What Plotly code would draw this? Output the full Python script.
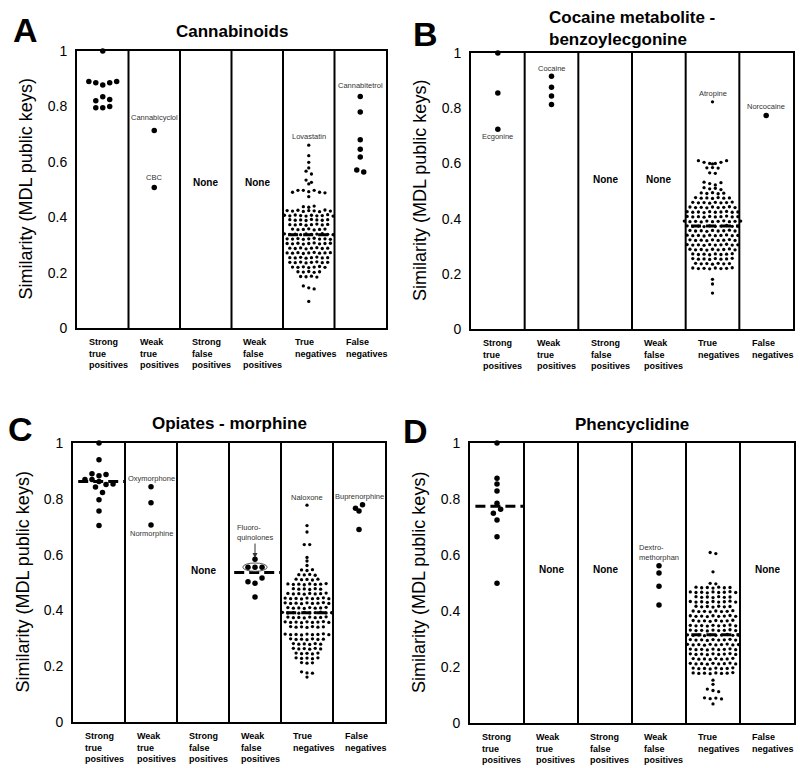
import numpy as np
import plotly.graph_objects as go

FONT = "Liberation Sans"

CATEGORIES = ["Strong<br>true<br>positives", "Weak<br>true<br>positives", "Strong<br>false<br>positives",
              "Weak<br>false<br>positives", "True<br>negatives", "False<br>negatives"]

# --- A: Cannabinoids ---
a_stp = [1.0, 0.89, 0.885, 0.877, 0.885, 0.89, 0.82, 0.835, 0.825, 0.795, 0.795, 0.80]
a_wtp = [0.713, 0.507]
a_sfp = []
a_wfp = []
a_tn = [
    0.660, 0.622, 0.598, 0.578, 0.566, 0.556, 0.534, 0.526, 0.520,
    0.490, 0.497, 0.497, 0.492, 0.497, 0.490, 0.488, 0.474,
    0.438, 0.436, 0.440,
    0.424, 0.422, 0.425, 0.421, 0.424, 0.423, 0.420, 0.426, 0.422,
    0.407, 0.405, 0.408, 0.406, 0.404, 0.407, 0.405, 0.406, 0.409, 0.404,
    0.391, 0.389, 0.390, 0.388, 0.392, 0.390, 0.389, 0.391,
    0.373, 0.372, 0.374, 0.371, 0.373, 0.375, 0.372, 0.374,
    0.357, 0.355, 0.356, 0.358, 0.354, 0.356, 0.357,
    0.340, 0.338, 0.339, 0.337, 0.340, 0.338, 0.339, 0.341, 0.338, 0.337,
    0.322, 0.321, 0.323, 0.320, 0.322, 0.324, 0.321, 0.322, 0.320,
    0.305, 0.304, 0.306, 0.303, 0.305, 0.307, 0.304, 0.305, 0.306,
    0.288, 0.287, 0.289, 0.286, 0.288, 0.290, 0.287, 0.288,
    0.271, 0.270, 0.272, 0.269, 0.271, 0.273, 0.270, 0.271, 0.272,
    0.254, 0.253, 0.255, 0.252, 0.254, 0.256, 0.253, 0.254,
    0.237, 0.236, 0.238, 0.235, 0.237, 0.239, 0.236, 0.237,
    0.220, 0.219, 0.221, 0.218, 0.220, 0.222, 0.219,
    0.203, 0.202, 0.204, 0.201, 0.203,
    0.186, 0.185, 0.187, 0.184,
    0.152, 0.145, 0.141, 0.096,
]
a_fn = [0.836, 0.780, 0.680, 0.645, 0.617, 0.570, 0.563]

# --- B: Cocaine metabolite ---
b_stp = [1.0, 0.855, 0.724]
b_wtp = [0.916, 0.876, 0.844, 0.813]
b_sfp = []
b_wfp = []
b_tn = [
    0.823,
    0.610, 0.604, 0.600, 0.598, 0.600, 0.604, 0.610,
    0.584, 0.585, 0.583,
    0.566, 0.564,
    0.532, 0.527, 0.522, 0.530,
    0.512, 0.508, 0.510, 0.505,
    0.493, 0.491, 0.494, 0.490, 0.492,
    0.476, 0.474, 0.475, 0.473, 0.476, 0.474, 0.475,
    0.459, 0.457, 0.458, 0.456, 0.459, 0.457, 0.458, 0.460,
    0.442, 0.440, 0.441, 0.439, 0.442, 0.440, 0.441, 0.443, 0.440,
    0.425, 0.423, 0.424, 0.422, 0.425, 0.423, 0.424, 0.426, 0.423, 0.424,
    0.408, 0.406, 0.407, 0.405, 0.408, 0.406, 0.407, 0.409, 0.406, 0.407,
    0.391, 0.389, 0.390, 0.388, 0.391, 0.389, 0.390, 0.392, 0.389, 0.390, 0.391,
    0.374, 0.372, 0.373, 0.371, 0.374, 0.372, 0.373, 0.375, 0.372, 0.373,
    0.357, 0.355, 0.356, 0.354, 0.357, 0.355, 0.356, 0.358, 0.355,
    0.340, 0.338, 0.339, 0.337, 0.340, 0.338, 0.339, 0.341, 0.338, 0.339,
    0.323, 0.321, 0.322, 0.320, 0.323, 0.321, 0.322, 0.324, 0.321,
    0.306, 0.304, 0.305, 0.303, 0.306, 0.304, 0.305, 0.307, 0.304, 0.305,
    0.289, 0.287, 0.288, 0.286, 0.289, 0.287, 0.288, 0.290, 0.287,
    0.272, 0.270, 0.271, 0.269, 0.272, 0.270, 0.271, 0.273,
    0.255, 0.253, 0.254, 0.252, 0.255, 0.253, 0.254, 0.256,
    0.238, 0.236, 0.237, 0.235, 0.238, 0.236, 0.237,
    0.221, 0.219, 0.220, 0.218, 0.221, 0.219, 0.220, 0.222,
    0.180, 0.163, 0.130,
]
b_fn = [0.774]

# --- C: Opiates ---
c_stp = [1.0, 0.940, 0.890, 0.883, 0.887, 0.869, 0.869, 0.862, 0.851, 0.842, 0.853, 0.823, 0.797, 0.756, 0.704]
c_wtp = [0.843, 0.786, 0.706]
c_sfp = []
c_wfp_other = [0.583, 0.503, 0.497, 0.516, 0.448]
c_wfp_fluoro = [0.555, 0.555, 0.555]
c_tn = [
    0.777,
    0.704, 0.681,
    0.636, 0.636,
    0.590, 0.577, 0.561,
    0.545, 0.543, 0.546,
    0.528, 0.527, 0.529, 0.526,
    0.512, 0.510, 0.511, 0.509, 0.512,
    0.495, 0.493, 0.494, 0.492, 0.495, 0.493, 0.494, 0.496,
    0.478, 0.476, 0.477, 0.475, 0.478, 0.476,
    0.461, 0.459, 0.460, 0.458, 0.461, 0.459, 0.460, 0.462,
    0.444, 0.442, 0.443, 0.441, 0.444, 0.442, 0.443, 0.445, 0.442,
    0.427, 0.425, 0.426, 0.424, 0.427, 0.425, 0.426, 0.428, 0.425,
    0.410, 0.408, 0.409, 0.407, 0.410, 0.408, 0.409, 0.411,
    0.393, 0.391, 0.392, 0.390, 0.393, 0.391, 0.392, 0.394, 0.391, 0.392,
    0.376, 0.374, 0.375, 0.373, 0.376, 0.374, 0.375, 0.377,
    0.359, 0.357, 0.358, 0.356, 0.359, 0.357, 0.358, 0.360, 0.357,
    0.342, 0.340, 0.341, 0.339, 0.342, 0.340, 0.341,
    0.315, 0.313, 0.314, 0.312, 0.315, 0.313, 0.314, 0.316, 0.313,
    0.298, 0.296, 0.297, 0.295, 0.298, 0.296, 0.297,
    0.281, 0.279, 0.280, 0.278, 0.281, 0.279,
    0.264, 0.262, 0.263, 0.261, 0.264, 0.262,
    0.247, 0.245, 0.246, 0.244, 0.247,
    0.230, 0.228, 0.229, 0.227, 0.230,
    0.213, 0.211, 0.212,
    0.180, 0.176, 0.175, 0.161,
]
c_fn = [0.766, 0.756, 0.779, 0.690]

# --- D: Phencyclidine ---
d_stp = [1.0, 0.874, 0.854, 0.829, 0.785, 0.749, 0.763, 0.725, 0.665, 0.499]
d_wtp = []
d_sfp = []
d_wfp = [0.562, 0.536, 0.488, 0.421]
d_tn = [
    0.609, 0.605,
    0.540,
    0.499, 0.497,
    0.485, 0.483, 0.484, 0.482, 0.485, 0.483, 0.484,
    0.468, 0.466, 0.467, 0.465, 0.468, 0.466, 0.467, 0.469, 0.466,
    0.451, 0.449, 0.450, 0.448, 0.451, 0.449, 0.450,
    0.434, 0.432, 0.433, 0.431, 0.434, 0.432, 0.433, 0.435, 0.432,
    0.417, 0.415, 0.416, 0.414, 0.417, 0.415, 0.416,
    0.400, 0.398, 0.399, 0.397, 0.400, 0.398, 0.399, 0.401,
    0.383, 0.381, 0.382, 0.380, 0.383, 0.381, 0.382, 0.384, 0.381,
    0.366, 0.364, 0.365, 0.363, 0.366, 0.364, 0.365, 0.367,
    0.349, 0.347, 0.348, 0.346, 0.349, 0.347, 0.348, 0.350, 0.347,
    0.332, 0.330, 0.331, 0.329, 0.332, 0.330, 0.331, 0.333, 0.330,
    0.315, 0.313, 0.314, 0.312, 0.315, 0.313, 0.314, 0.316, 0.313, 0.314,
    0.298, 0.296, 0.297, 0.295, 0.298, 0.296, 0.297, 0.299, 0.296,
    0.281, 0.279, 0.280, 0.278, 0.281, 0.279, 0.280, 0.282, 0.279, 0.280,
    0.264, 0.262, 0.263, 0.261, 0.264, 0.262, 0.263, 0.265, 0.262,
    0.247, 0.245, 0.246, 0.244, 0.247, 0.245, 0.246, 0.248, 0.245,
    0.230, 0.228, 0.229, 0.227, 0.230, 0.228, 0.229, 0.231,
    0.213, 0.211, 0.212, 0.210, 0.213, 0.211, 0.212, 0.214, 0.211,
    0.196, 0.194, 0.195, 0.193, 0.196, 0.194, 0.195, 0.197,
    0.179, 0.177, 0.178, 0.176, 0.179, 0.177, 0.178, 0.180,
    0.153, 0.138,
    0.121, 0.116, 0.112,
    0.090, 0.087, 0.089, 0.086,
    0.068,
]
d_fn = []

panels = [
    dict(letter="A", title="Cannabinoids", box=(77, 386, 51, 328), title_y=31, letter_xy=(25, 30),
         cols=[a_stp, a_wtp, a_sfp, a_wfp, a_tn, a_fn], median=[4], none_y=0.525,
         labels=[(1, 0.759, "Cannabicyclol"), (1, 0.542, "CBC"), (4, 0.69, "Lovastatin"), (5, 0.877, "Cannabitetrol")]),
    dict(letter="B", title="Cocaine metabolite -<br>benzoylecgonine", box=(471, 793, 53, 329), title_y=29,
         letter_xy=(425, 34),
         cols=[b_stp, b_wtp, b_sfp, b_wfp, b_tn, b_fn], median=[4], none_y=0.54,
         labels=[(0, 0.697, "Ecgonine"), (1, 0.944, "Cocaine"), (4, 0.854, "Atropine"), (5, 0.807, "Norcocaine")]),
    dict(letter="C", title="Opiates - morphine", box=(73, 385, 443, 722), title_y=423, letter_xy=(20, 429),
         cols=[c_stp, c_wtp, c_sfp, c_wfp_other + c_wfp_fluoro, c_tn, c_fn], median=[0, 3, 4], none_y=0.544,
         labels=[(1, 0.872, "Oxymorphone"), (1, 0.674, "Normorphine"), (4, 0.805, "Naloxone"),
                 (5, 0.809, "Buprenorphine")]),
    dict(letter="D", title="Phencyclidine", box=(470, 794, 443, 723), title_y=424, letter_xy=(415, 431),
         cols=[d_stp, d_wtp, d_sfp, d_wfp, d_tn, d_fn], median=[0, 4], none_y=0.548,
         labels=[(3, 0.61, "Dextro-<br>methorphan")]),
]

W, H = 800, 768


def px(x):
    return x / W


def py(y):
    return 1 - y / H


def swarm_offsets(vals, tol, step):
    idx = sorted(range(len(vals)), key=lambda i: -vals[i])
    rows = []
    for i in idx:
        if rows and vals[rows[-1][0]] - vals[i] < tol:
            rows[-1].append(i)
        else:
            rows.append([i])
    off = [0.0] * len(vals)
    for r in rows:
        r.sort()
        for k, i in enumerate(r):
            off[i] = (k - (len(r) - 1) / 2) * step
    return off


fig = go.Figure()
shapes, annotations = [], []

for k, p in enumerate(panels, start=1):
    sx = "" if k == 1 else str(k)
    xr, yr = "x" + sx, "y" + sx
    left, right, top, bottom = p["box"]
    fig.layout["xaxis" + sx] = dict(domain=[px(left), px(right)], range=[0, 6], anchor=yr, showgrid=False,
                                    zeroline=False, showticklabels=False, ticks="", showline=True, mirror=True,
                                    linecolor="black", linewidth=2, fixedrange=True, automargin=False)
    fig.layout["yaxis" + sx] = dict(domain=[py(bottom), py(top)], range=[0, 1], anchor=xr, showgrid=False,
                                    zeroline=False, tickvals=[0, 0.2, 0.4, 0.6, 0.8, 1],
                                    ticktext=["0", "0.2", "0.4", "0.6", "0.8", "1"], ticks="",
                                    ticklabelstandoff=5, tickfont=dict(family=FONT, size=14, color="black"),
                                    showline=True, mirror=True, linecolor="black", linewidth=2, fixedrange=True,
                                    automargin=False)

    for c in range(1, 6):
        shapes.append(dict(type="line", xref=xr, yref=yr, x0=c, x1=c, y0=0, y1=1,
                           line=dict(color="black", width=2)))

    for c, vals in enumerate(p["cols"]):
        if not vals:
            annotations.append(dict(xref=xr, yref=yr, x=c + 0.5, y=p["none_y"], text="<b>None</b>",
                                    showarrow=False, font=dict(family=FONT, size=10, color="black")))
            continue
        dense = len(vals) > 30
        off = swarm_offsets(vals, 0.012 if dense else 0.02, 0.105 if dense else 0.135)
        xs = [c + 0.5 + o for o in off]
        fig.add_trace(go.Scatter(x=xs, y=vals, xaxis=xr, yaxis=yr, mode="markers", cliponaxis=False,
                                 marker=dict(color="black", size=3.3 if dense else 5.5), showlegend=False,
                                 hoverinfo="y"))
        if c in p["median"]:
            med = float(np.median(vals))
            shapes.append(dict(type="line", xref=xr, yref=yr, x0=c + 0.1, x1=c + 1, y0=med, y1=med,
                               line=dict(color="black", width=3, dash="10px,5px")))
        if k == 3 and c == 3:
            fx = xs[-len(c_wfp_fluoro):]
            fy = c_wfp_fluoro[0]
            shapes.append(dict(type="circle", xref=xr, yref=yr, x0=min(fx) - 0.1, x1=max(fx) + 0.1,
                               y0=fy - 0.015, y1=fy + 0.015, line=dict(color="#555", width=1)))
            annotations.append(dict(xref=xr, yref=yr, axref=xr, ayref=yr, x=float(np.mean(fx)), y=fy + 0.033,
                                    ax=float(np.mean(fx)), ay=fy + 0.09, text="", showarrow=True, arrowhead=2,
                                    arrowsize=1, arrowwidth=1, arrowcolor="#333"))
            annotations.append(dict(xref=xr, yref=yr, x=c + 0.5, y=0.68, text="Fluoro-<br>quinolones",
                                    align="left", showarrow=False, font=dict(family=FONT, size=7.5, color="#333")))

    for c, y, t in p["labels"]:
        annotations.append(dict(xref=xr, yref=yr, x=c + 0.5, y=y, text=t, showarrow=False, align="left",
                                font=dict(family=FONT, size=7.5, color="#333")))

    for c, name in enumerate(CATEGORIES):
        annotations.append(dict(xref=xr, yref="paper", x=c + 0.19, y=py(bottom + 7), xanchor="left",
                                yanchor="top", align="left", text="<b>" + name + "</b>", showarrow=False,
                                font=dict(family=FONT, size=9, color="black")))

    annotations.append(dict(xref="paper", yref="paper", x=px(left - 51), y=py((top + bottom) / 2),
                            xanchor="center", yanchor="middle", text="Similarity (MDL public keys)",
                            textangle=-90, showarrow=False, font=dict(family=FONT, size=18, color="black")))
    annotations.append(dict(xref="paper", yref="paper", x=px((left + right) / 2), y=py(p["title_y"]),
                            xanchor="center", yanchor="middle", text="<b>" + p["title"] + "</b>", align="left",
                            showarrow=False, font=dict(family=FONT, size=17, color="black")))
    lx, ly = p["letter_xy"]
    annotations.append(dict(xref="paper", yref="paper", x=px(lx), y=py(ly), xanchor="center", yanchor="middle",
                            text="<b>" + p["letter"] + "</b>", showarrow=False,
                            font=dict(family=FONT, size=34, color="black")))

fig.update_layout(width=W, height=H, margin=dict(l=0, r=0, t=0, b=0), plot_bgcolor="white",
                  paper_bgcolor="white", shapes=shapes, annotations=annotations, showlegend=False)
fig.write_html("out.html", config={"displayModeBar": False},
               post_script="document.body.style.margin='0';")
